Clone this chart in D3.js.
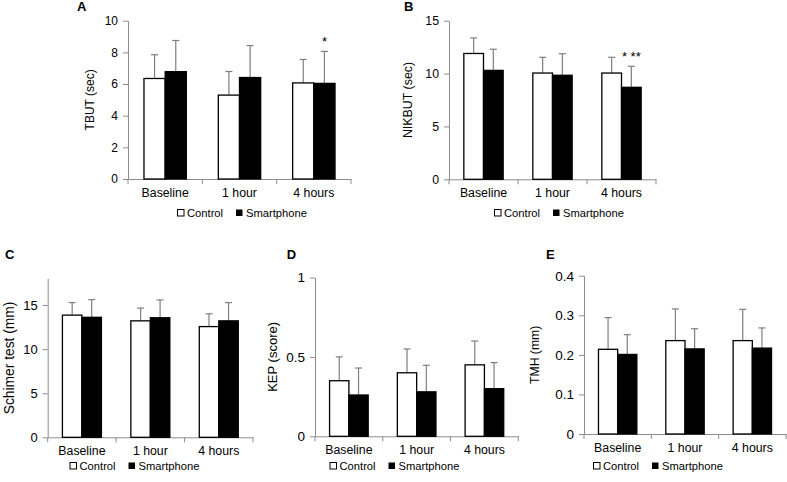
<!DOCTYPE html>
<html><head><meta charset="utf-8">
<script src="https://cdn.jsdelivr.net/npm/d3@7"></script>
<style>
html,body{margin:0;padding:0;background:#fff;}
svg{display:block;font-family:"Liberation Sans",Arial,sans-serif;}
</style></head>
<body>
<svg id="chart" width="787" height="482"></svg>
<script>
// ---- data ----
const categories = ["Baseline", "1 hour", "4 hours"];
const seriesNames = ["Control", "Smartphone"];

const tbutControl = [6.35, 5.3, 6.07];
const tbutControlErr = [7.85, 6.79, 7.55];
const tbutPhone = [6.78, 6.41, 6.04];
const tbutPhoneErr = [8.75, 8.43, 8.06];
const tbutTicks = [0, 2, 4, 6, 8, 10];

const nikbutControl = [11.9, 10.05, 10.05];
const nikbutControlErr = [13.37, 11.54, 11.54];
const nikbutPhone = [10.3, 9.84, 8.7];
const nikbutPhoneErr = [12.3, 11.88, 10.69];
const nikbutTicks = [0, 5, 10, 15];

const schirmerControl = [13.85, 13.2, 12.55];
const schirmerControlErr = [15.27, 14.65, 14.0];
const schirmerPhone = [13.6, 13.55, 13.2];
const schirmerPhoneErr = [15.6, 15.57, 15.27];
const schirmerTicks = [0, 5, 10, 15];

const kepControl = [0.35, 0.40, 0.45];
const kepControlErr = [0.50, 0.55, 0.60];
const kepPhone = [0.26, 0.28, 0.30];
const kepPhoneErr = [0.43, 0.447, 0.464];
const kepTicks = [0, 0.5, 1];

const tmhControl = [0.214, 0.236, 0.236];
const tmhControlErr = [0.294, 0.316, 0.315];
const tmhPhone = [0.201, 0.215, 0.217];
const tmhPhoneErr = [0.251, 0.266, 0.268];
const tmhTicks = [0, 0.1, 0.2, 0.3, 0.4];

const panelLetters = ["A", "B", "C", "D", "E"];
const axisTitles = ["TBUT (sec)", "NIKBUT (sec)", "Schimer test (mm)", "KEP (score)", "TMH (mm)"];
const yMax = [10, 15, 18, 1, 0.4];
const significance = [["", "", "*"], ["", "", "* **"], ["", "", ""], ["", "", ""], ["", "", ""]];

// ---- layout (positions / sizes only) ----
const layout = [
  {x0: 128, x1: 351, yb: 179, yt: 20.7, titleX: 90, titleSize: 12, tickSize: 12, letterX: 77, letterY: 11, legX: 177, legY: 213},
  {x0: 449, x1: 656, yb: 179.3, yt: 20.7, titleX: 408, titleSize: 12.4, tickSize: 12.3, letterX: 404, letterY: 11, legX: 494, legY: 213},
  {x0: 47.7, x1: 253, yb: 437.3, yt: 278.5, titleX: 9, titleSize: 13.8, tickSize: 13, letterX: 5, letterY: 259, legX: 69.5, legY: 466},
  {x0: 315, x1: 518.3, yb: 436.3, yt: 277.5, titleX: 272.7, titleSize: 13, tickSize: 13.5, letterX: 286.7, letterY: 259, legX: 329.5, legY: 466},
  {x0: 584, x1: 786, yb: 434, yt: 275.7, titleX: 535, titleSize: 12.2, tickSize: 13.5, letterX: 546, letterY: 259, legX: 593, legY: 466}
];

const panels = [
  {c: tbutControl, ce: tbutControlErr, p: tbutPhone, pe: tbutPhoneErr, ticks: tbutTicks},
  {c: nikbutControl, ce: nikbutControlErr, p: nikbutPhone, pe: nikbutPhoneErr, ticks: nikbutTicks},
  {c: schirmerControl, ce: schirmerControlErr, p: schirmerPhone, pe: schirmerPhoneErr, ticks: schirmerTicks},
  {c: kepControl, ce: kepControlErr, p: kepPhone, pe: kepPhoneErr, ticks: kepTicks},
  {c: tmhControl, ce: tmhControlErr, p: tmhPhone, pe: tmhPhoneErr, ticks: tmhTicks}
];

const svg = d3.select("#chart");
const axisColor = "#8c8c8c";
const errColor = "#7f7f7f";

panels.forEach((pd, i) => {
  const L = layout[i];
  const g = svg.append("g");
  const x = d3.scaleBand().domain(categories).range([L.x0, L.x1]).paddingInner(0).paddingOuter(0);
  const bw = x.bandwidth() * 0.285;
  const xs = d3.scaleBand().domain(seriesNames)
    .range([(x.bandwidth() - 2 * bw) / 2, (x.bandwidth() + 2 * bw) / 2]);
  const y = d3.scaleLinear().domain([0, yMax[i]]).range([L.yb, L.yt]);

  // y axis
  const ya = g.append("g").attr("transform", `translate(${L.x0},0)`)
    .call(d3.axisLeft(y).tickValues(pd.ticks).tickSize(5).tickSizeOuter(0).tickPadding(5)
      .tickFormat(d3.format("~g")));
  ya.select(".domain").attr("stroke", axisColor);
  ya.selectAll(".tick line").attr("stroke", axisColor);
  ya.selectAll(".tick text").attr("fill", "#000").style("font-size", L.tickSize + "px").style("font-family", "'Liberation Sans',Arial,sans-serif");

  // x axis (labels)
  const xa = g.append("g").attr("transform", `translate(0,${L.yb})`)
    .call(d3.axisBottom(x).tickSize(0).tickPadding(9));
  xa.select(".domain").attr("stroke", axisColor);
  xa.selectAll(".tick text").attr("fill", "#000").style("font-size", "12.3px").style("font-family", "'Liberation Sans',Arial,sans-serif");
  // boundary tick marks
  const bounds = categories.map(c => x(c)).concat([x(categories[categories.length - 1]) + x.bandwidth()]);
  g.selectAll(".bt").data(bounds).enter().append("line")
    .attr("x1", d => d).attr("x2", d => d).attr("y1", L.yb).attr("y2", L.yb + 5)
    .attr("stroke", axisColor);

  const rows = categories.map((cat, k) => ([
    {cat, s: "Control", v: pd.c[k], e: pd.ce[k], fill: "#fff"},
    {cat, s: "Smartphone", v: pd.p[k], e: pd.pe[k], fill: "#000", sig: significance[i][k]}
  ])).flat();

  // error bars (upper only)
  rows.forEach(r => {
    const cx = x(r.cat) + xs(r.s) + xs.bandwidth() / 2;
    g.append("line").attr("x1", cx).attr("x2", cx).attr("y1", y(r.v)).attr("y2", y(r.e))
      .attr("stroke", errColor).attr("stroke-width", 1.2);
    g.append("line").attr("x1", cx - 3.5).attr("x2", cx + 3.5).attr("y1", y(r.e)).attr("y2", y(r.e))
      .attr("stroke", errColor).attr("stroke-width", 1.2);
  });

  // bars
  g.selectAll(".bar").data(rows).enter().append("rect")
    .attr("x", d => x(d.cat) + xs(d.s))
    .attr("y", d => y(d.v))
    .attr("width", xs.bandwidth())
    .attr("height", d => y(0) - y(d.v))
    .attr("fill", d => d.fill)
    .attr("stroke", "#000").attr("stroke-width", 1.3);

  // significance
  rows.filter(r => r.sig).forEach(r => {
    const cx = x(r.cat) + xs(r.s) + xs.bandwidth() / 2;
    g.append("text").attr("x", cx).attr("y", y(r.e) - 5).attr("text-anchor", "middle")
      .style("font-size", "13px").text(r.sig);
  });

  // y title
  const cy = (L.yb + L.yt) / 2;
  g.append("text").attr("transform", `translate(${L.titleX},${cy}) rotate(-90)`)
    .attr("text-anchor", "middle").attr("dy", "0.35em").style("font-size", L.titleSize + "px").text(axisTitles[i]);

  // panel letter
  g.append("text").attr("x", L.letterX).attr("y", L.letterY).style("font-size", "13px")
    .style("font-weight", "bold").text(panelLetters[i]);

  // legend
  const lg = g.append("g").attr("transform", `translate(${L.legX},${L.legY})`);
  lg.append("rect").attr("x", 0.5).attr("y", -3.5).attr("width", 6.5).attr("height", 6.5)
    .attr("fill", "#fff").attr("stroke", "#000").attr("stroke-width", 1);
  lg.append("text").attr("x", 10).attr("y", 0).attr("dy", "0.36em").style("font-size", "11.2px").text(seriesNames[0]);
  lg.append("rect").attr("x", 59).attr("y", -3.5).attr("width", 6.5).attr("height", 6.5)
    .attr("fill", "#000");
  lg.append("text").attr("x", 69).attr("y", 0).attr("dy", "0.36em").style("font-size", "11.2px").text(seriesNames[1]);
});
</script>
</body></html>
